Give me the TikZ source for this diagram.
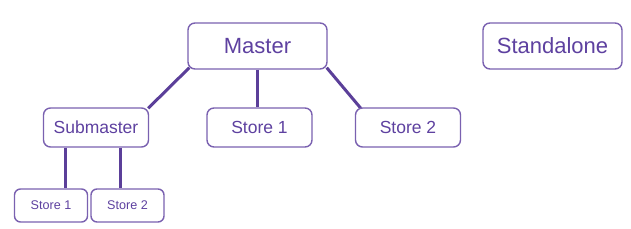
\documentclass[tikz,border=0pt]{standalone}
\usepackage{fontspec}
\setmainfont{Liberation Sans}
\usetikzlibrary{backgrounds}
\definecolor{boxline}{HTML}{7A61B0}
\definecolor{conn}{HTML}{5B3F99}
\definecolor{txt}{HTML}{5E41A0}
\begin{document}
\begin{tikzpicture}[x=1pt,y=1pt,
  box/.style={draw=boxline,line width=1.4pt,fill=white,rounded corners=7pt,inner sep=0pt,text=txt},
  big/.style={box,minimum width=139pt,minimum height=46pt,font=\fontsize{22}{24}\selectfont},
  mid/.style={box,minimum width=105pt,minimum height=39pt,font=\fontsize{17.5}{19}\selectfont},
  small/.style={box,rounded corners=6pt,minimum width=73pt,minimum height=33pt,font=\fontsize{12.6}{14}\selectfont},
  link/.style={draw=conn,line width=3pt}]
\useasboundingbox (0,0) rectangle (631,229);
\node[big] (master) at (257.5,183) {Master};
\node[big] (standalone) at (552.5,183) {Standalone};
\node[mid] (sub) at (96,101.5) {Submaster};
\node[mid] (s1) at (259.5,101.5) {Store 1};
\node[mid] (s2) at (408,101.5) {Store 2};
\node[small] (b1) at (51,23.5) {Store 1};
\node[small] (b2) at (127.5,23.5) {Store 2};
\begin{scope}[on background layer]
\draw[link] ([shift={(2pt,2pt)}]master.south west) -- ([shift={(-1pt,-1pt)}]sub.north east);
\draw[link] (master.south) -- (master.south |- s1.north);
\draw[link] ([shift={(-1pt,2pt)}]master.south east) -- ([shift={(6pt,-1pt)}]s2.north west);
\draw[link] ([xshift=-31pt]sub.south) -- ([xshift=-31pt]sub.south |- b1.north);
\draw[link] ([xshift=24pt]sub.south) -- ([xshift=24pt]sub.south |- b2.north);
\end{scope}
\end{tikzpicture}
\end{document}
